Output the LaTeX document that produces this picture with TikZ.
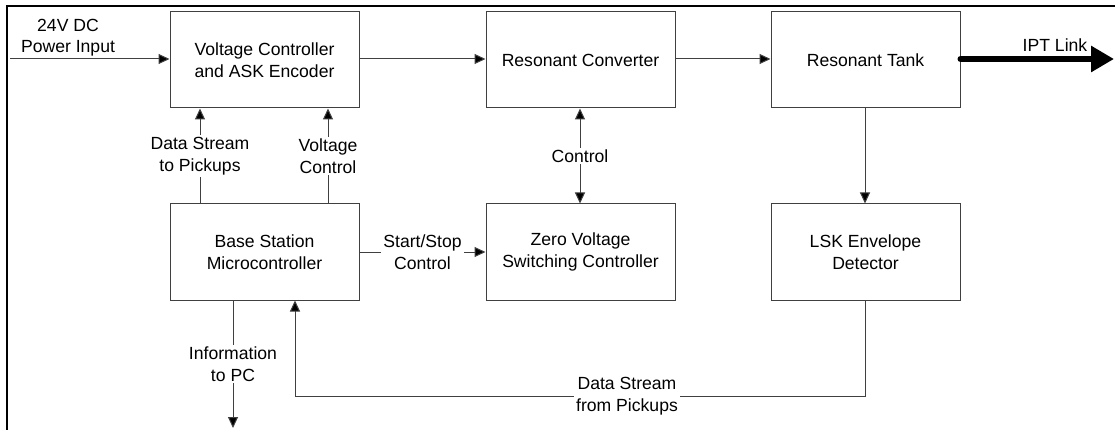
\documentclass[tikz,border=0pt]{standalone}
\usepackage{fontspec}
\setmainfont{Liberation Sans}
\usetikzlibrary{arrows.meta}
\begin{document}
\begin{tikzpicture}[x=1pt,y=-1pt,
  every node/.style={font=\fontsize{17.6}{21.5}\selectfont, align=center},
  block/.style={draw=black!75, line width=1pt, minimum width=189pt, minimum height=96pt, inner sep=0pt},
  conn/.style={draw=black!75, line width=1pt},
  arr/.style={conn, -{Triangle[length=11pt,width=10pt,fill=black]}},
  biarr/.style={conn, {Triangle[length=11pt,width=10pt,fill=black]}-{Triangle[length=11pt,width=10pt,fill=black]}},
  lbl/.style={fill=white, inner sep=2pt}]
\useasboundingbox (0,0) rectangle (1115,430);

% outer frame (top and left edges)
\draw[line width=2pt] (7,431) -- (7,6) -- (1116,6);

% blocks
\node[block] (vc)   at (264.5,60)  {Voltage Controller\\and ASK Encoder};
\node[block] (rc)   at (580.5,60)  {Resonant Converter};
\node[block] (rt)   at (865.5,60)  {Resonant Tank};
\node[block] (base) at (264.5,252) {Base Station\\Microcontroller};
\node[block] (zvs)  at (580.5,252) {Zero Voltage\\Switching Controller};
\node[block] (lsk)  at (865.5,252) {LSK Envelope\\Detector};

% free ends and routing points
\coordinate (pin) at (10,59);
\coordinate (ipt) at (1114,59);
\coordinate (pc)  at (233,428);
\coordinate (dl)  at (295,396);
\coordinate (ds)  at (200,0);
\coordinate (vctl) at (328,0);
\coordinate (ctl) at (580,0);
\coordinate (tap) at (865,0);

% power path
\draw[arr] (pin) -- (vc.west |- pin);
\node (pinlbl) at (68,37.5) {24V DC\\Power Input};
\draw[arr] (vc.east |- pin) -- (rc.west |- pin);
\draw[arr] (rc.east |- pin) -- (rt.west |- pin);
\draw[line width=6pt, line cap=round, -{Triangle[length=23pt,width=25pt]}] (rt.east |- pin) -- (ipt);
\node[inner sep=0pt] (iptlbl) at (1055,45) {IPT Link};

% microcontroller outputs to the encoder
\draw[arr] (base.north -| ds) -- node[lbl] (dslbl) {Data Stream\\to Pickups} (vc.south -| ds);
\draw[arr] (base.north -| vctl) -- node[lbl] (vclbl) {Voltage\\Control} (vc.south -| vctl);

% converter control
\draw[biarr] (rc.south -| ctl) -- node[lbl] (ctllbl) {Control} (zvs.north -| ctl);
\draw[arr] (base.east) -- node[lbl] (sslbl) {Start/Stop\\Control} (zvs.west);

% feedback path
\draw[arr] (rt.south -| tap) -- (lsk.north -| tap);
\draw[arr] (lsk.south -| tap) |- (dl) -- (base.south -| dl);
\node[lbl] (fblbl) at (627,396) {Data Stream\\from Pickups};

% link to the PC
\draw[arr] (base.south -| pc) -- node[lbl] (pclbl) {Information\\to PC} (pc);
\end{tikzpicture}
\end{document}
